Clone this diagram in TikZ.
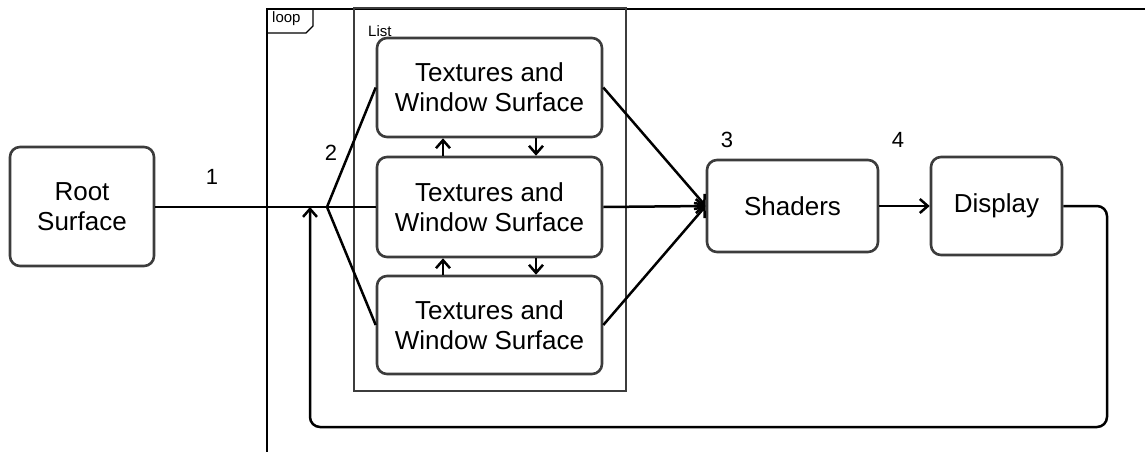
\documentclass[tikz,border=0pt]{standalone}
\usepackage{fontspec}
\setmainfont{Liberation Sans}
\usetikzlibrary{arrows.meta}
\definecolor{boxgray}{HTML}{3C3C3C}
\begin{document}
\begin{tikzpicture}[x=1pt,y=-1pt,
  box/.style={draw=boxgray, line width=2.6pt, rounded corners=10pt, inner sep=0pt, align=center,
    font=\fontsize{26}{30}\selectfont},
  conn/.style={line width=2.5pt, -{Straight Barb[length=8pt,width=14pt,line width=2.5pt]}},
  plain/.style={line width=2.5pt},
  num/.style={font=\fontsize{22}{24}\selectfont, inner sep=0pt},
  small/.style={font=\fontsize{15}{17}\selectfont, inner sep=0pt},
  frame/.style={draw=black, line width=1.2pt},
  listframe/.style={draw=boxgray, line width=2.6pt}]
\useasboundingbox (0,0) rectangle (1145,452);
% loop frame
\draw[frame] (267,452) -- (267,9) -- (1145,9);
\draw[frame] (267,33) -- (306,33) -- (313,26) -- (313,9);
\node[small, anchor=west] (loop) at (272,19) {loop};
% list frame
\draw[listframe] (354,8) rectangle (626,391);
\node[small, anchor=west] (list) at (368,31) {List};
% nodes
\node[box, minimum width=144pt, minimum height=119pt] (root) at (82,206.5) {Root\\Surface};
\node[box, minimum width=225pt, minimum height=99pt] (t1) at (489.5,87.5) {Textures and\\Window Surface};
\node[box, minimum width=225pt, minimum height=100pt] (t2) at (489.5,207) {Textures and\\Window Surface};
\node[box, minimum width=225pt, minimum height=98pt] (t3) at (489.5,325) {Textures and\\Window Surface};
\node[box, minimum width=171pt, minimum height=92pt] (shaders) at (792.5,206) {Shaders};
\node[box, minimum width=131pt, minimum height=98pt] (display) at (996.5,206) {Display};
\coordinate (fork) at (327,207);
\coordinate (ret) at (310,207);
% connectors
\draw[plain] (root.east |- fork) -- (fork);
\draw[plain] (fork) -- (t1.west);
\draw[plain] (fork) -- (t2.west);
\draw[plain] (fork) -- (t3.west);
\draw[conn] (t1.east) -- (shaders.west);
\draw[conn] (t2.east) -- (shaders.west);
\draw[conn] (t3.east) -- (shaders.west);
\draw[conn] (shaders.east) -- (display.west);
\draw[conn] (t2.north -| 443,0) -- (t1.south -| 443,0);
\draw[conn] (t1.south -| 536,0) -- (t2.north -| 536,0);
\draw[conn] (t3.north -| 443,0) -- (t2.south -| 443,0);
\draw[conn] (t2.south -| 536,0) -- (t3.north -| 536,0);
\draw[conn, rounded corners=10pt] (display.east) -- (1107,206) -- (1107,427) -- (310,427) -- (ret);
% labels
\node[num] (n1) at (212,177) {1};
\node[num] (n2) at (331,153) {2};
\node[num] (n3) at (727,140) {3};
\node[num] (n4) at (898,140) {4};
\end{tikzpicture}
\end{document}
